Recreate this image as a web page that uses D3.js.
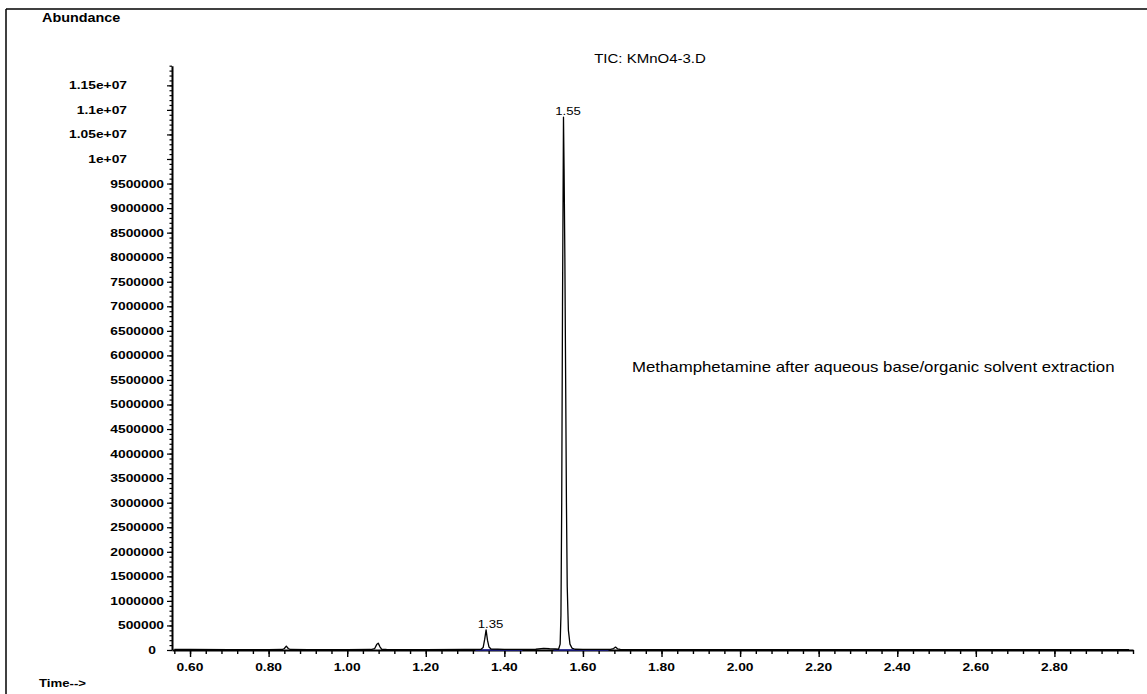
<!DOCTYPE html>
<html>
<head>
<meta charset="utf-8">
<script src="https://cdn.jsdelivr.net/npm/d3@7"></script>
<style>
  body { margin: 0; background: #fff; }
  text { font-family: "Liberation Sans", Arial, sans-serif; fill: #000; }
</style>
</head>
<body>
<svg id="chart" width="1147" height="694"></svg>
<script>
// chromatogram trace (retention time in min, abundance)
const times = [
  0.56, 0.60, 0.70, 0.80, 0.835, 0.840, 0.845, 0.850, 0.855, 0.90,
  1.00, 1.06, 1.070, 1.075, 1.079, 1.083, 1.088, 1.10, 1.20, 1.30,
  1.34, 1.346, 1.350, 1.3535, 1.357, 1.361, 1.366, 1.40, 1.48, 1.50,
  1.515, 1.53, 1.538, 1.542, 1.544, 1.546, 1.548, 1.5505, 1.552, 1.554,
  1.556, 1.558, 1.560, 1.563, 1.567, 1.572, 1.580, 1.60, 1.67, 1.678,
  1.683, 1.688, 1.695, 1.75, 2.00, 2.50, 2.99
];
const abundance = [
  12000, 10000, 9000, 9000, 10000, 30000, 80000, 30000, 10000, 9000,
  9000, 10000, 30000, 110000, 140000, 70000, 15000, 10000, 9000, 10000,
  12000, 50000, 220000, 410000, 200000, 60000, 20000, 12000, 15000, 35000,
  25000, 20000, 15000, 120000, 700000, 3000000, 7000000, 10850000, 9800000, 8000000,
  5500000, 3000000, 1300000, 400000, 120000, 40000, 15000, 12000, 12000, 30000,
  60000, 25000, 11000, 9000, 8000, 8000, 8000
];

// labelled peaks
const peakTimes = [1.3535, 1.5505];
const peakHeights = [410000, 10850000];
const peakLabels = ["1.35", "1.55"];

// integration baselines (start, end)
const baseStart = [1.326, 1.525];
const baseEnd = [1.446, 1.665];

// axes
const xMajor = [0.60, 0.80, 1.00, 1.20, 1.40, 1.60, 1.80, 2.00, 2.20, 2.40, 2.60, 2.80];
const xLabels = ["0.60", "0.80", "1.00", "1.20", "1.40", "1.60", "1.80", "2.00", "2.20", "2.40", "2.60", "2.80"];
const yMajor = [0, 500000, 1000000, 1500000, 2000000, 2500000, 3000000, 3500000, 4000000,
  4500000, 5000000, 5500000, 6000000, 6500000, 7000000, 7500000, 8000000, 8500000,
  9000000, 9500000, 10000000, 10500000, 11000000, 11500000];
const yLabels = ["0", "500000", "1000000", "1500000", "2000000", "2500000", "3000000",
  "3500000", "4000000", "4500000", "5000000", "5500000", "6000000", "6500000", "7000000",
  "7500000", "8000000", "8500000", "9000000", "9500000", "1e+07", "1.05e+07", "1.1e+07", "1.15e+07"];

const titleText = "TIC: KMnO4-3.D";
const noteText = "Methamphetamine after aqueous base/organic solvent extraction";

const width = 1147;
const height = 694;
const sx = 1.2; // the scan is a little wider than the font

const svg = d3.select('#chart');

const x = d3.scaleLinear().domain([0.5541, 3.0]).range([172, 1133]);
const y = d3.scaleLinear().domain([0, 11900000]).range([650, 65.7]);

// frame lines at top and left
svg.append('line').attr('x1', 6).attr('x2', width).attr('y1', 9).attr('y2', 9)
  .attr('stroke', '#000').attr('stroke-width', 1.5);
svg.append('line').attr('x1', 6).attr('x2', 6).attr('y1', 9).attr('y2', height)
  .attr('stroke', '#000').attr('stroke-width', 1.5);

const stretchText = (sel, tx, ty) =>
  sel.attr('transform', `translate(${tx},${ty}) scale(${sx},1)`);

// x axis ticks
const xMinor = d3.range(0.56, 3.0001, 0.04);
const xAxisG = svg.append('g').attr('transform', `translate(0,${y(0)})`);
xAxisG.call(d3.axisBottom(x).tickValues(xMinor).tickSize(4).tickSizeOuter(0).tickFormat(''));
xAxisG.append('g').call(d3.axisBottom(x).tickValues(xMajor).tickSize(7).tickSizeOuter(0).tickFormat(''))
  .select('.domain').remove();
xAxisG.selectAll('.domain').attr('stroke-width', 2);
xAxisG.selectAll('.tick line').attr('stroke-width', 1.4);

svg.append('g').selectAll('text')
  .data(xMajor)
  .join('text')
  .attr('text-anchor', 'middle')
  .attr('font-size', 11.5)
  .attr('font-weight', 'bold')
  .text((d, i) => xLabels[i])
  .each(function (d) { stretchText(d3.select(this), x(d), 671); });

// y axis ticks
const yMinor = d3.range(0, 11900001, 100000);
const yAxisG = svg.append('g').attr('transform', `translate(${x.range()[0]},0)`);
yAxisG.call(d3.axisLeft(y).tickValues(yMinor).tickSize(2.5).tickSizeOuter(0).tickFormat(''));
yAxisG.append('g').call(d3.axisLeft(y).tickValues(yMajor).tickSize(5).tickSizeOuter(0).tickFormat(''))
  .select('.domain').remove();
yAxisG.selectAll('.domain').attr('stroke-width', 2);
yAxisG.selectAll('.tick line').attr('stroke-width', 1.2);

// label right edges differ between plain and exponent labels in the original
const yLabelRight = (s) => (s === '0' ? 156 : s.includes('e') ? 127 : 164);
svg.append('g').selectAll('text')
  .data(yMajor)
  .join('text')
  .attr('text-anchor', 'end')
  .attr('font-size', 11.5)
  .attr('font-weight', 'bold')
  .text((d, i) => yLabels[i])
  .each(function (d, i) { stretchText(d3.select(this), yLabelRight(yLabels[i]), y(d) + 4); });

// integration baselines
svg.append('g').selectAll('line')
  .data(baseStart)
  .join('line')
  .attr('x1', (d) => x(d))
  .attr('x2', (d, i) => x(baseEnd[i]))
  .attr('y1', y(0))
  .attr('y2', y(0))
  .attr('stroke', '#1f1f9a')
  .attr('stroke-width', 1.4);

// trace
const trace = times.map((t, i) => [t, abundance[i]]);
svg.append('path')
  .datum(trace)
  .attr('fill', 'none')
  .attr('stroke', '#000')
  .attr('stroke-width', 1.3)
  .attr('stroke-linejoin', 'round')
  .attr('d', d3.line().x((d) => x(d[0])).y((d) => y(d[1])));

// peak labels, decimal point sits over the apex
svg.append('g').selectAll('text')
  .data(peakTimes)
  .join('text')
  .attr('text-anchor', 'middle')
  .attr('font-size', 11)
  .text((d, i) => peakLabels[i])
  .each(function (d, i) { stretchText(d3.select(this), x(d) + 4.5, y(peakHeights[i]) - 2); });

// texts
stretchText(svg.append('text').attr('font-size', 12).attr('font-weight', 'bold').text('Abundance'), 42, 22);
stretchText(svg.append('text').attr('font-size', 11).attr('font-weight', 'bold').text('Time-->'), 39, 687);
stretchText(svg.append('text').attr('font-size', 12.5).attr('text-anchor', 'middle').text(titleText), 650, 63);
stretchText(svg.append('text').attr('font-size', 14).text(noteText), 632, 372);
</script>
</body>
</html>
